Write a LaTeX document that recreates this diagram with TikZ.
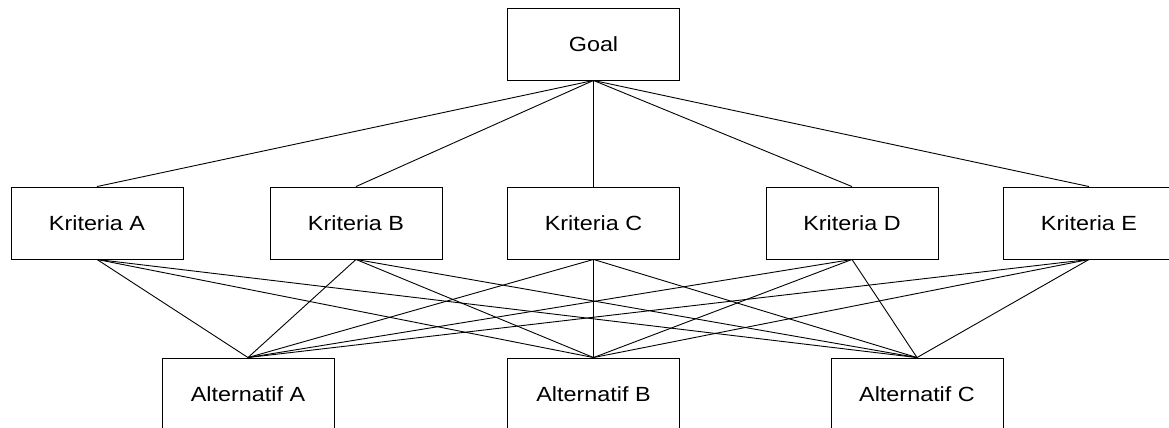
\documentclass[tikz,border=0pt]{standalone}
\usepackage{fontspec}
\setmainfont{Liberation Sans}[FakeStretch=1.14]
\begin{document}
\begin{tikzpicture}[x=1pt,y=-1pt,
  box/.style={draw,line width=0.9pt,minimum width=172pt,minimum height=72pt,inner sep=0pt,font=\fontsize{20.5}{24}\selectfont},
  link/.style={line width=0.9pt}]
\useasboundingbox (0,0) rectangle (1169,428);
\begin{scope}
\clip (0,0) rectangle (1169,428);
\node[box] (g) at (593.5,44) {Goal};
\node[box] (ka) at (97,223) {Kriteria A};
\node[box] (kb) at (356,223) {Kriteria B};
\node[box] (kc) at (593.5,223) {Kriteria C};
\node[box] (kd) at (852,223) {Kriteria D};
\node[box] (ke) at (1089,223) {Kriteria E};
\node[box] (aa) at (248,394) {Alternatif A};
\node[box] (ab) at (593.5,394) {Alternatif B};
\node[box] (ac) at (917,394) {Alternatif C};
\foreach \k in {ka,kb,kc,kd,ke}{
  \draw[link] (g.south) -- (\k.north);
  \foreach \a in {aa,ab,ac}{
    \draw[link] (\k.south) -- (\a.north);
  }
}
\end{scope}
\end{tikzpicture}
\end{document}
